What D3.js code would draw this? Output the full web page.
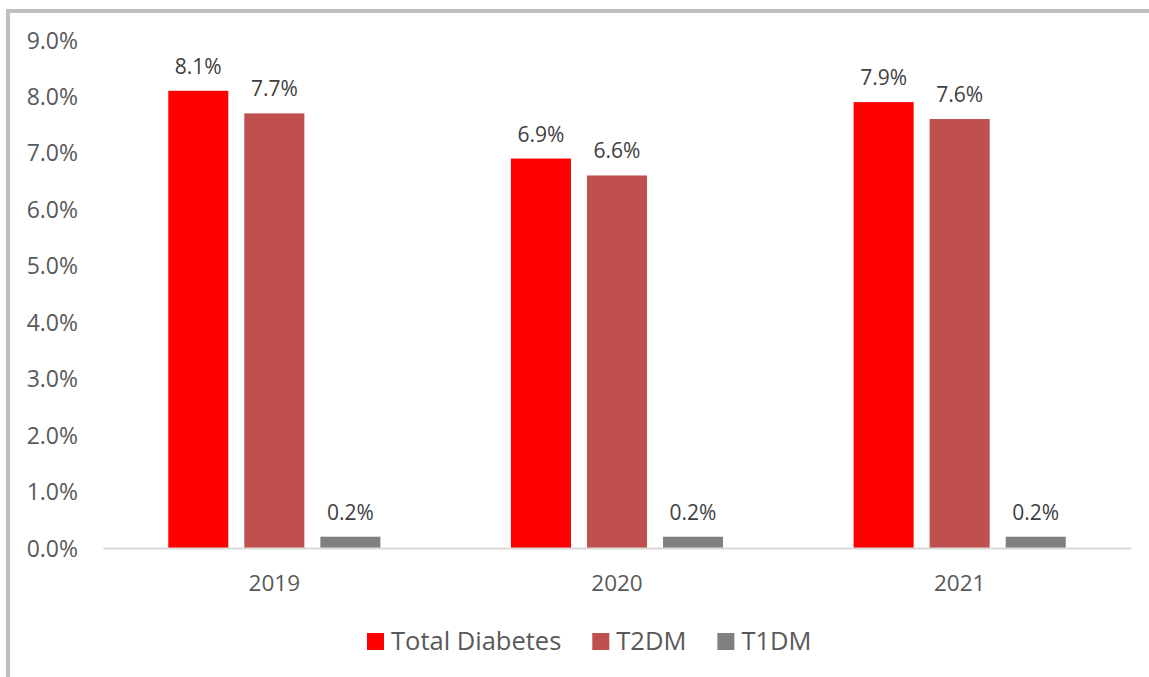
<!DOCTYPE html>
<html>
<head>
<meta charset="utf-8">
<script src="https://cdn.jsdelivr.net/npm/d3@7"></script>
<style>
  html, body { margin: 0; padding: 0; background: #fff; }
  svg { display: block; font-family: "Open Sans", "Noto Sans", sans-serif; }
</style>
</head>
<body>
<svg id="chart" width="1149" height="677"></svg>
<script>
const categories = ["2019", "2020", "2021"];
const seriesNames = ["Total Diabetes", "T2DM", "T1DM"];
const totalDiabetes = [8.1, 6.9, 7.9];
const t2dm = [7.7, 6.6, 7.6];
const t1dm = [0.2, 0.2, 0.2];
const yTicks = [0, 1, 2, 3, 4, 5, 6, 7, 8, 9];
const colors = ["#FF0000", "#C0504D", "#808080"];

const seriesValues = [totalDiabetes, t2dm, t1dm];

const svg = d3.select("#chart");
const W = 1149, H = 677;

// outer frame
svg.append("rect")
  .attr("x", 8).attr("y", 11)
  .attr("width", W + 20).attr("height", H + 20)
  .attr("fill", "none").attr("stroke", "#bfbfbf").attr("stroke-width", 4);

const plot = { left: 103, right: 1131, top: 40, bottom: 548 };

const y = d3.scaleLinear().domain([0, 9]).range([plot.bottom, plot.top]);

const x0 = d3.scaleBand().domain(categories).range([plot.left, plot.right])
  .paddingInner(0.381).paddingOuter(0.1905);
const x1 = d3.scaleBand().domain(seriesNames).range([0, x0.bandwidth()])
  .paddingInner(0.2105).paddingOuter(0);

// y axis labels
const yAxis = d3.axisLeft(y).tickValues(yTicks).tickFormat(d => d3.format(".1f")(d) + "%").tickSize(0).tickPadding(0);
const yg = svg.append("g").attr("transform", `translate(78,0)`).call(yAxis);
yg.select(".domain").remove();
yg.selectAll("text").attr("fill", "#595959").style("font-size", "23px")
  .style("font-family", '"Open Sans", sans-serif').attr("dy", "0.35em");

// bars
categories.forEach((cat, ci) => {
  seriesNames.forEach((s, si) => {
    const v = seriesValues[si][ci];
    const bx = x0(cat) + x1(s);
    svg.append("rect")
      .attr("x", bx).attr("y", y(v))
      .attr("width", x1.bandwidth()).attr("height", y(0) - y(v))
      .attr("fill", colors[si]);
    svg.append("text")
      .attr("x", bx + x1.bandwidth() / 2).attr("y", y(v) - 17)
      .attr("text-anchor", "middle").attr("fill", "#404040")
      .style("font-size", "21px")
      .text(d3.format(".1f")(v) + "%");
  });
});

// x axis
const xAxis = d3.axisBottom(x0).tickSize(0).tickPadding(0);
const xg = svg.append("g").attr("transform", `translate(0,${plot.bottom})`).call(xAxis);
xg.select(".domain").attr("stroke", "#d9d9d9").attr("stroke-width", 2);
xg.selectAll("text").attr("fill", "#595959").style("font-size", "22.5px")
  .style("font-family", '"Open Sans", sans-serif').attr("y", 43).attr("dy", "0");

// legend
const leg = svg.append("g");
let lx = 367;
seriesNames.forEach((s, i) => {
  leg.append("rect").attr("x", lx).attr("y", 633).attr("width", 17).attr("height", 17).attr("fill", colors[i]);
  const t = leg.append("text").attr("x", lx + 24).attr("y", 649.5)
    .attr("fill", "#595959").style("font-size", "25.5px").text(s);
  lx += 24 + t.node().getComputedTextLength() + 31;
});
</script>
</body>
</html>
